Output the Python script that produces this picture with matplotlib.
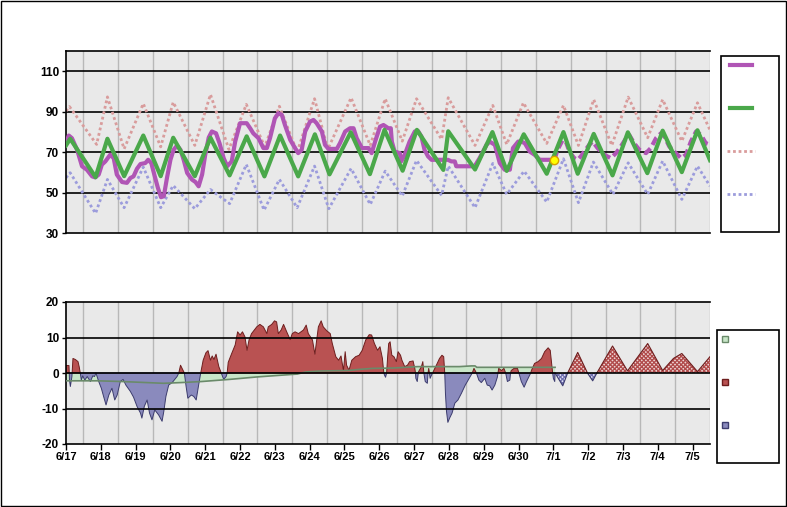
import numpy as np
import matplotlib
matplotlib.use('Agg')
import matplotlib.pyplot as plt
from matplotlib.patches import Rectangle
from matplotlib.lines import Line2D

# ---------------- data (time = days since 6/17 00:00) ----------------
day_labels = ['6/17', '6/18', '6/19', '6/20', '6/21', '6/22', '6/23', '6/24', '6/25',
              '6/26', '6/27', '6/28', '6/29', '6/30', '7/1', '7/2', '7/3', '7/4', '7/5']
temp_ticks = [30, 50, 70, 90, 110]
dep_ticks = [-20, -10, 0, 10, 20]

# observed temperature (purple)
obs_t = [0.00, 0.08, 0.17, 0.32, 0.46, 0.60, 0.75, 0.84, 0.94, 1.03,
         1.13, 1.27, 1.37, 1.46, 1.61, 1.75, 1.85, 1.94, 2.04, 2.14,
         2.28, 2.36, 2.45, 2.55, 2.64, 2.73, 2.81, 2.90, 3.00, 3.09,
         3.19, 3.29, 3.38, 3.48, 3.62, 3.72, 3.81, 3.91, 4.00, 4.10,
         4.19, 4.31, 4.41, 4.53, 4.63, 4.76, 4.86, 5.00, 5.19, 5.29,
         5.38, 5.53, 5.67, 5.77, 5.86, 6.00, 6.10, 6.20, 6.29, 6.44,
         6.58, 6.67, 6.77, 6.87, 7.01, 7.11, 7.20, 7.35, 7.44, 7.54,
         7.78, 7.87, 8.02, 8.16, 8.26, 8.35, 8.50, 8.69, 8.78, 8.88,
         9.02, 9.12, 9.26, 9.33, 9.36, 9.44, 9.59, 9.63, 9.73, 9.87,
         10.02, 10.11, 10.21, 10.30, 10.40, 10.50, 10.97, 11.07, 11.17, 11.21,
         11.74, 11.88, 12.08, 12.17, 12.32, 12.46, 12.60, 12.75, 12.84, 12.99,
         13.08, 13.18, 13.32, 13.46, 13.61, 14.03]
obs_v = [74.4, 78.2, 76.9, 71.1, 63.0, 61.3, 58.0, 57.5, 58.9, 63.8,
         65.4, 68.7, 67.0, 58.9, 55.2, 54.8, 57.2, 58.0, 61.8, 64.1,
         64.6, 66.2, 64.6, 58.0, 52.3, 47.7, 48.2, 57.2, 66.2, 71.1,
         73.3, 71.1, 66.2, 59.7, 56.4, 55.2, 53.1, 58.9, 68.7, 77.2,
         80.2, 79.3, 74.4, 67.0, 63.0, 65.4, 75.2, 84.3, 84.3, 81.8,
         79.3, 76.9, 72.0, 72.0, 76.9, 86.7, 89.2, 88.4, 83.4, 76.1,
         72.0, 69.5, 71.1, 80.2, 85.1, 85.9, 84.3, 80.2, 73.6, 71.6,
         71.6, 74.4, 80.2, 81.8, 81.8, 76.9, 72.0, 72.0, 69.5, 75.2,
         82.6, 83.4, 81.8, 81.8, 75.2, 70.3, 69.5, 65.4, 68.7, 75.2,
         80.2, 80.5, 77.7, 71.1, 67.9, 66.2, 66.2, 65.4, 65.4, 63.0,
         63.0, 67.0, 73.6, 75.2, 73.6, 64.6, 61.3, 61.3, 72.0, 75.2,
         75.2, 74.4, 70.3, 68.7, 66.2, 66.2]

# forecast temperature (purple dashed)
fc_t = [14.03, 14.12, 14.27, 14.36, 14.46, 14.60, 14.70, 14.79, 14.89, 15.03,
        15.13, 15.27, 15.46, 15.65, 15.80, 15.94, 16.09, 16.18, 16.32, 16.47,
        16.66, 16.80, 16.95, 17.09, 17.19, 17.33, 17.47, 17.67, 17.81, 17.95,
        18.10, 18.24, 18.38, 18.50]
fc_v = [66.2, 71.1, 76.1, 75.2, 70.3, 67.0, 66.2, 67.9, 70.3, 73.6,
        75.2, 72.0, 68.7, 67.0, 69.5, 72.8, 76.9, 78.5, 74.4, 71.1,
        69.5, 72.0, 76.9, 79.3, 77.7, 72.8, 70.3, 67.0, 68.7, 75.2,
        80.2, 78.5, 74.4, 73.6]

# current reading (yellow dot)
now_t = 14.03
now_v = 66.2

# normal temperature (green)
norm_t = [0.00, 0.12, 0.85, 1.19, 1.67, 2.22, 2.72, 3.08, 3.70, 4.15,
          4.70, 5.19, 5.70, 6.15, 6.67, 7.15, 7.57, 8.18, 8.73, 9.15,
          9.67, 10.08, 10.84, 10.98, 11.75, 12.25, 12.66, 13.15, 13.81, 14.29,
          14.70, 15.16, 15.70, 16.14, 16.70, 17.14, 17.69, 18.14, 18.50]
norm_v = [73.3, 76.6, 57.6, 76.6, 58.1, 78.2, 58.1, 77.1, 58.1, 77.1,
          58.5, 77.8, 58.0, 78.2, 58.0, 78.8, 59.0, 79.8, 59.1, 81.0,
          60.8, 81.0, 61.2, 80.3, 61.4, 79.9, 60.7, 78.8, 59.3, 79.9,
          59.3, 79.0, 58.5, 79.8, 59.6, 80.6, 60.1, 80.8, 66.0]

# record high (pink dotted)
hi_t = [0.00, 0.10, 0.88, 1.19, 1.67, 2.22, 2.72, 3.08, 3.70, 4.15,
        4.68, 5.18, 5.71, 6.13, 6.64, 7.14, 7.52, 8.19, 8.74, 9.17,
        9.66, 10.07, 10.79, 10.98, 11.75, 12.26, 12.66, 13.14, 13.81, 14.29,
        14.72, 15.16, 15.68, 16.15, 16.71, 17.14, 17.69, 18.14, 18.50]
hi_v = [90.3, 92.5, 73.8, 97.3, 71.6, 94.0, 72.6, 94.7, 73.3, 98.5,
        71.3, 93.6, 72.6, 92.7, 70.0, 96.4, 71.3, 96.9, 73.3, 96.4,
        75.4, 96.4, 76.3, 96.9, 73.3, 93.1, 73.8, 94.4, 74.3, 93.1,
        73.3, 96.0, 73.3, 97.2, 77.1, 96.0, 75.4, 94.4, 80.9]

# record low (blue dotted)
lo_t = [0.00, 0.12, 0.85, 1.19, 1.67, 2.22, 2.72, 3.08, 3.70, 4.15,
        4.70, 5.18, 5.69, 6.13, 6.64, 7.14, 7.55, 8.19, 8.74, 9.17,
        9.66, 10.07, 10.79, 10.98, 11.75, 12.26, 12.66, 13.16, 13.81, 14.29,
        14.72, 15.15, 15.71, 16.15, 16.71, 17.14, 17.69, 18.14, 18.50]
lo_v = [57.3, 59.8, 39.7, 56.5, 42.5, 62.6, 42.5, 53.5, 42.0, 51.5,
        44.5, 63.9, 41.3, 56.5, 42.5, 63.1, 42.0, 61.9, 44.1, 60.6,
        48.3, 65.9, 48.6, 63.1, 42.5, 64.4, 49.1, 60.6, 45.3, 66.7,
        45.0, 65.1, 49.1, 64.7, 49.1, 65.6, 46.6, 63.1, 53.2]

# observed departure from normal (time, degrees)
dep_obs = [
    (0.00, 2.1), (0.086, 2.1), (0.10, -2.0), (0.125, -3.8), (0.17, -1.0), (0.20, 4.1),
    (0.27, 3.8), (0.345, 3.2), (0.38, 1.7), (0.41, 0.0), (0.44, -2.0), (0.48, -0.8),
    (0.54, -2.0), (0.61, -1.0), (0.70, -2.4), (0.77, -0.8), (0.82, -1.0), (0.86, 0.0),
    (0.94, -2.4), (1.015, -4.3), (1.08, -6.6), (1.15, -9.0), (1.23, -6.2), (1.32, -4.3),
    (1.40, -7.6), (1.47, -6.2), (1.56, -2.4), (1.64, -1.8), (1.72, -3.4), (1.85, -5.2),
    (1.94, -6.8), (2.04, -9.4), (2.14, -11.3), (2.18, -12.7), (2.25, -9.4), (2.33, -7.6),
    (2.40, -11.3), (2.47, -13.2), (2.55, -10.4), (2.66, -11.8), (2.76, -13.6), (2.81, -10.8),
    (2.87, -6.6), (2.95, -3.4), (3.05, -2.7), (3.19, -1.0), (3.24, 0.0), (3.29, 2.2),
    (3.35, 1.0), (3.40, 0.0), (3.45, -3.8), (3.50, -7.1), (3.60, -6.2), (3.67, -6.6),
    (3.74, -7.6), (3.81, -3.4), (3.87, 0.0), (3.94, 3.6), (4.02, 5.7), (4.08, 6.3),
    (4.15, 3.6), (4.20, 4.8), (4.25, 3.8), (4.31, 5.3), (4.39, 1.8), (4.46, 0.0),
    (4.53, -1.8), (4.60, -1.0), (4.63, 0.0), (4.66, 3.0), (4.76, 5.5), (4.86, 7.9),
    (4.93, 11.6), (5.00, 10.7), (5.07, 11.6), (5.14, 10.2), (5.20, 6.4), (5.26, 9.4),
    (5.33, 11.1), (5.48, 13.0), (5.57, 13.7), (5.67, 13.0), (5.77, 11.1), (5.81, 13.0),
    (5.91, 13.7), (5.99, 14.7), (6.05, 14.4), (6.10, 11.1), (6.18, 12.1), (6.25, 13.7),
    (6.34, 11.6), (6.44, 9.4), (6.50, 11.1), (6.58, 11.6), (6.68, 11.1), (6.82, 12.1),
    (6.90, 13.5), (6.96, 11.1), (7.08, 9.3), (7.15, 5.3), (7.25, 13.0), (7.33, 14.7),
    (7.39, 13.0), (7.49, 11.9), (7.59, 11.1), (7.65, 8.3), (7.75, 4.6), (7.83, 3.6),
    (7.90, 4.8), (7.97, 0.7), (8.02, 6.0), (8.06, 2.2), (8.13, 0.8), (8.21, 3.6),
    (8.32, 4.6), (8.42, 5.0), (8.51, 6.4), (8.61, 9.3), (8.71, 10.8), (8.78, 10.7),
    (8.86, 8.3), (8.95, 6.4), (9.02, 7.4), (9.09, 4.1), (9.13, 0.0), (9.15, -0.6),
    (9.18, -1.2), (9.21, 0.0), (9.24, 4.6), (9.27, 8.3), (9.31, 8.8), (9.36, 5.0),
    (9.42, 4.6), (9.49, 3.2), (9.54, 6.0), (9.61, 5.0), (9.65, 3.6), (9.73, 1.8),
    (9.81, 2.2), (9.87, 3.2), (9.97, 3.4), (10.02, 1.3), (10.04, 0.0), (10.05, -1.5),
    (10.09, -2.4), (10.12, 0.0), (10.13, 0.4), (10.21, 1.8), (10.25, 3.2), (10.28, 0.0),
    (10.32, -2.4), (10.38, -2.9), (10.40, 0.0), (10.42, 1.3), (10.44, 0.0), (10.46, -1.5),
    (10.50, -0.6), (10.53, 0.0), (10.57, 0.8), (10.64, 2.2), (10.73, 4.1), (10.80, 5.0),
    (10.85, 4.6), (10.88, 0.0), (10.90, -5.7), (10.93, -10.8), (10.97, -13.9), (11.02, -12.7),
    (11.09, -11.3), (11.17, -8.5), (11.26, -7.6), (11.36, -5.7), (11.47, -3.4), (11.60, -1.2),
    (11.67, 0.0), (11.72, 1.3), (11.79, 0.0), (11.86, -2.0), (11.93, -2.7), (12.03, -1.5),
    (12.10, -3.4), (12.17, -3.6), (12.24, -4.8), (12.32, -3.4), (12.39, -1.2), (12.41, 0.0),
    (12.43, 1.3), (12.51, 0.7), (12.58, 1.3), (12.63, 0.0), (12.68, -2.4), (12.75, -2.0),
    (12.77, 0.0), (12.79, 0.7), (12.87, 1.3), (12.97, 1.3), (13.01, 0.0), (13.08, -2.4),
    (13.16, -4.0), (13.23, -2.4), (13.32, -0.6), (13.35, 0.0), (13.37, 0.7), (13.46, 2.7),
    (13.56, 3.2), (13.66, 4.1), (13.75, 6.0), (13.85, 7.1), (13.91, 6.4), (13.96, 1.8),
    (13.98, 0.0), (14.00, -1.5), (14.04, -2.4), (14.05, 0.0)]

# forecast departure from normal
dep_fc = [(14.05, 0.0), (14.27, -3.6), (14.41, 0.0), (14.70, 5.8), (14.98, 0.0),
          (15.13, -2.2), (15.25, 0.0), (15.70, 7.6), (16.13, 0.6), (16.71, 8.3),
          (17.14, 0.7), (17.45, 4.1), (17.69, 5.5), (18.14, 0.4), (18.50, 4.6)]

# cumulative average departure (light green)
cum_dep = [(0.0, -2.2), (0.9, -2.2), (1.6, -2.4), (2.8, -2.9), (3.3, -2.7), (3.9, -2.4),
           (4.7, -1.8), (5.5, -1.1), (6.5, -0.4), (6.65, -0.3), (6.8, 0.1), (6.9, 0.3),
           (7.25, 0.55), (8.1, 0.7), (8.4, 1.0), (8.8, 1.3), (9.4, 1.4), (10.1, 1.8),
           (11.3, 1.8), (11.65, 2.0), (11.75, 2.0), (11.8, 1.6), (14.05, 1.6)]

# ---------------- styling ----------------
PURPLE = '#b055b5'
GREEN = '#4aa84a'
PINK = '#d99c9c'
BLUE = '#9c9cdc'
RED_F = '#b95252'
RED_E = '#6e1e1e'
BLUE_F = '#8a8abd'
BLUE_E = '#3c3c6e'
LGREEN = '#c8e6c8'
CUMLINE = '#6a8a6a'
BG = '#e9e9e9'

plt.rcParams['hatch.linewidth'] = 0.9

W, H = 787, 507
fig = plt.figure(figsize=(W / 100, H / 100), dpi=100)
fig.patch.set_facecolor('white')


def fx(px):
    return px / W


def fy(py):
    return 1 - py / H


ax1 = fig.add_axes([fx(66), fy(233), fx(710) - fx(66), fy(51) - fy(233)])
ax2 = fig.add_axes([fx(66), fy(444), fx(710) - fx(66), fy(302) - fy(444)])

ylab_font = dict(family=['Liberation Sans', 'DejaVu Sans'], weight='bold', size=8.5)
xlab_font = dict(family=['Liberation Sans Narrow', 'Liberation Sans', 'DejaVu Sans'],
                 weight='bold', size=8)

for ax in (ax1, ax2):
    ax.set_facecolor(BG)
    ax.set_xlim(0, 18.5)
    for k in range(19):
        ax.axvline(k + 0.5, color='#b8b8b8', lw=1.0, zorder=0.5)
    for s in ('left', 'bottom', 'top'):
        ax.spines[s].set_color('black')
        ax.spines[s].set_linewidth(1.2)
    ax.spines['right'].set_visible(False)

# ---- top panel ----
ax1.set_ylim(30, 120)
ax1.set_yticks(temp_ticks)
ax1.set_yticklabels([str(v) for v in temp_ticks], fontdict=ylab_font)
ax1.set_xticks([])
ax1.tick_params(axis='y', direction='out', length=3, width=1, pad=2)
for v in temp_ticks[1:]:
    ax1.axhline(v, color='black', lw=1.2, zorder=1)

ax1.plot(hi_t, hi_v, color=PINK, lw=2.0, linestyle=(0, (1, 1)), zorder=2)
ax1.plot(lo_t, lo_v, color=BLUE, lw=2.0, linestyle=(0, (1, 1)), zorder=2)
ax1.plot(obs_t, obs_v, color=PURPLE, lw=3.0, zorder=3, solid_joinstyle='round')
ax1.plot(fc_t, fc_v, color=PURPLE, lw=3.0, linestyle=(0, (2, 1)), zorder=3)
ax1.plot(norm_t, norm_v, color=GREEN, lw=3.0, zorder=4, solid_joinstyle='round')
ax1.plot([now_t], [now_v], marker='o', ms=6, mfc='#ffff00', mec='#d8a000', mew=1, zorder=6)

# ---- bottom panel ----
ax2.set_ylim(-20, 20)
ax2.set_yticks(dep_ticks)
ax2.set_yticklabels([str(v) for v in dep_ticks], fontdict=ylab_font)
ax2.set_xticks(range(len(day_labels)))
ax2.set_xticklabels(day_labels, fontdict=xlab_font)
ax2.tick_params(axis='y', direction='out', length=3, width=1, pad=2)
ax2.tick_params(axis='x', direction='out', length=4, width=1, pad=2)
for v in (-10, 0, 10):
    ax2.axhline(v, color='black', lw=1.2, zorder=5)

ct = np.array([p[0] for p in cum_dep])
cv = np.array([p[1] for p in cum_dep])
ax2.fill_between(ct, 0, cv, facecolor=LGREEN, edgecolor='none', zorder=1)

dt = np.array([p[0] for p in dep_obs])
dv = np.array([p[1] for p in dep_obs])
ax2.fill_between(dt, 0, dv, where=dv >= 0, interpolate=True, facecolor=RED_F,
                 edgecolor=RED_E, lw=0.7, zorder=2)
ax2.fill_between(dt, 0, dv, where=dv <= 0, interpolate=True, facecolor=BLUE_F,
                 edgecolor=BLUE_E, lw=0.7, zorder=2)

ft = np.array([p[0] for p in dep_fc])
fv = np.array([p[1] for p in dep_fc])
ax2.fill_between(ft, 0, fv, where=fv >= 0, interpolate=True, facecolor='#ecd2d2',
                 edgecolor='#b04a4a', hatch='xxxxxxxx', lw=0, zorder=2)
ax2.fill_between(ft, 0, fv, where=fv <= 0, interpolate=True, facecolor='#e2e2f4',
                 edgecolor='#7070b0', hatch='xxxxxxxx', lw=0, zorder=2)
ax2.plot(ft, np.where(fv >= 0, fv, np.nan), color=RED_E, lw=0.8, zorder=3)
ax2.plot(ft[:3], fv[:3], color=BLUE_E, lw=0.8, zorder=3)
ax2.plot(ft[4:7], fv[4:7], color=BLUE_E, lw=0.8, zorder=3)

ax2.plot(ct, cv, color=CUMLINE, lw=1.2, zorder=4)

# ---- legends (no text, as in the reference) ----
fig.add_artist(Rectangle((fx(721), fy(232)), fx(779) - fx(721), fy(56) - fy(232),
                         transform=fig.transFigure, facecolor='white', edgecolor='black', lw=1.2))
fig.add_artist(Line2D([fx(730), fx(752)], [fy(65), fy(65)], transform=fig.transFigure,
                      color=PURPLE, lw=3))
fig.add_artist(Line2D([fx(730), fx(752)], [fy(108), fy(108)], transform=fig.transFigure,
                      color=GREEN, lw=3))
fig.add_artist(Line2D([fx(727), fx(755)], [fy(151), fy(151)], transform=fig.transFigure,
                      color=PINK, lw=2, linestyle=(0, (1, 1))))
fig.add_artist(Line2D([fx(727), fx(755)], [fy(194), fy(194)], transform=fig.transFigure,
                      color=BLUE, lw=2, linestyle=(0, (1, 1))))

fig.add_artist(Rectangle((fx(717), fy(463)), fx(779) - fx(717), fy(330) - fy(463),
                         transform=fig.transFigure, facecolor='white', edgecolor='black', lw=1.2))
for yy, fc, ec in ((339, LGREEN, CUMLINE), (382, RED_F, RED_E), (425, BLUE_F, BLUE_E)):
    fig.add_artist(Rectangle((fx(722), fy(yy + 3)), fx(728) - fx(722), fy(yy - 3) - fy(yy + 3),
                             transform=fig.transFigure, facecolor=fc, edgecolor=ec, lw=1))

# outer border
fig.add_artist(Rectangle((0.5 / W, 1.5 / H), 785 / W, 504.5 / H, transform=fig.transFigure,
                         fill=False, edgecolor='black', lw=1))

fig.savefig('out.png', dpi=100, facecolor='white')
